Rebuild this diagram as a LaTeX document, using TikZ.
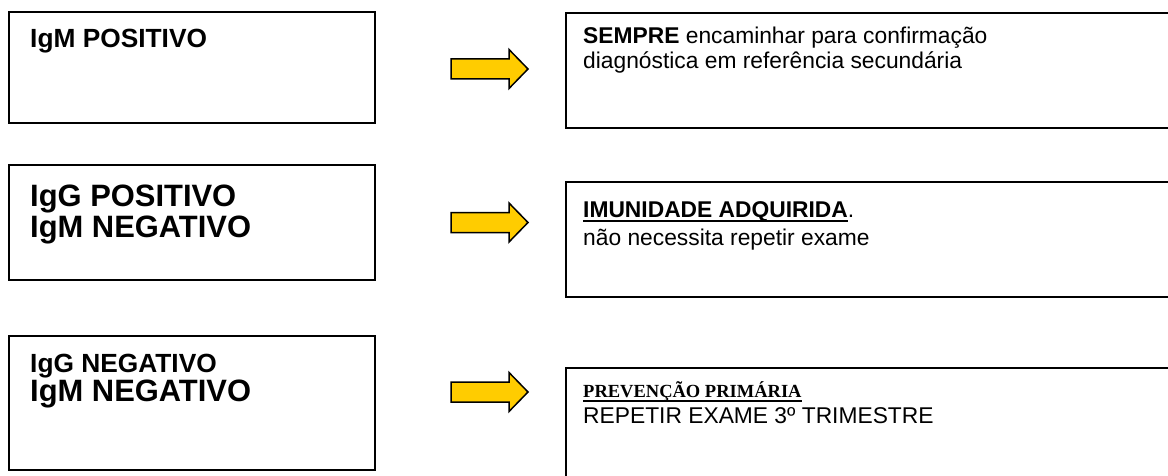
\documentclass[tikz,border=0pt]{standalone}
\usepackage{fontspec}
\setmainfont{Liberation Sans}
\newfontfamily\timesf{Liberation Serif}
\definecolor{arrowyellow}{HTML}{FFCC00}
\newcommand\myul[2]{\setbox0=\hbox{#1}\rlap{\rule[-#2]{\wd0}{1.8pt}}\box0}
\begin{document}
\begin{tikzpicture}[x=1pt,y=-1pt,
  lbox/.style={draw, line width=2pt, inner sep=0pt, minimum width=366pt},
  rbox/.style={draw, line width=2pt, inner sep=0pt, minimum width=609pt},
  yarrow/.style={draw, line width=1.5pt, fill=arrowyellow, line join=miter},
  txt/.style={anchor=base west, inner sep=0pt},
  bigb/.style={font=\bfseries\fontsize{30.9}{34}\selectfont},
  smallb/.style={font=\bfseries\fontsize{26.3}{30}\selectfont},
  rtxt/.style={font=\fontsize{22.8}{26}\selectfont}]
\useasboundingbox (0,0) rectangle (1168,476);
\clip (0,0) rectangle (1168,476);
% left boxes
\node[lbox, minimum height=111pt] (l1) at (192,67.5) {};
\node[lbox, minimum height=115pt] (l2) at (192,222.5) {};
\node[lbox, minimum height=134pt] (l3) at (192,403) {};
% right boxes
\node[rbox, minimum height=115pt] (r1) at (870.5,70.5) {};
\node[rbox, minimum height=115pt] (r2) at (870.5,239.5) {};
\node[rbox, minimum height=122pt] (r3) at (870.5,429) {};
% arrows
\foreach \c in {69,222.5,392}{
  \draw[yarrow] (451,\c-10) -- (509,\c-10) -- (509,\c-19.5) -- (528,\c)
     -- (509,\c+19.5) -- (509,\c+10) -- (451,\c+10) -- cycle;
}
% left texts
\node[txt, smallb] (t1) at (30,48) {IgM POSITIVO};
\node[txt, bigb] (t2a) at (30,207) {IgG POSITIVO};
\node[txt, bigb] (t2b) at (30,237.5) {IgM NEGATIVO};
\node[txt, smallb] (t3a) at (30,372) {IgG NEGATIVO};
\node[txt, bigb] (t3b) at (30,401.5) {IgM NEGATIVO};
% right texts
\node[txt, rtxt] (u1a) at (583,44) {\textbf{SEMPRE} encaminhar para confirmação};
\node[txt, rtxt] (u1b) at (583,69) {diagnóstica em referência secundária};
\node[txt, rtxt] (u2a) at (583,217) {\myul{\textbf{IMUNIDADE ADQUIRIDA}}{5pt}.};
\node[txt, rtxt] (u2b) at (583,245) {não necessita repetir exame};
\node[txt, font=\timesf\bfseries\fontsize{18.5}{22}\selectfont] (u3a) at (583,397) {\myul{PREVENÇÃO PRIMÁRIA}{4.5pt}};
\node[txt, rtxt] (u3b) at (583,423) {REPETIR EXAME 3º TRIMESTRE};
\end{tikzpicture}
\end{document}
